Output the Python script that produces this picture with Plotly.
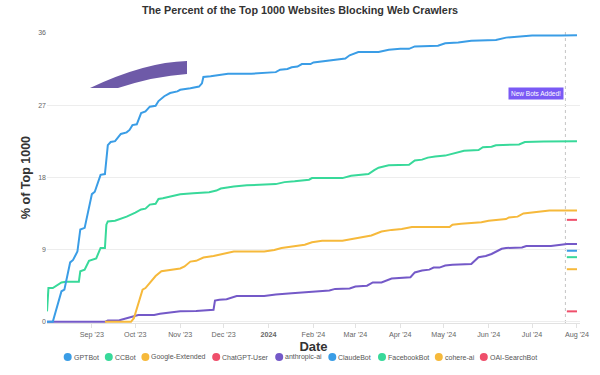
import plotly.graph_objects as go

# ---------------- data ----------------
chart_title = "The Percent of the Top 1000 Websites Blocking Web Crawlers"
x_title = "Date"
y_title = "% of Top 1000"

series_names = ["GPTBot", "CCBot", "Google-Extended", "ChatGPT-User", "anthropic-ai",
                "ClaudeBot", "FacebookBot", "cohere-ai", "OAI-SearchBot"]

gptbot_dates = ["2023-08-01", "2023-08-05", "2023-08-11", "2023-08-13", "2023-08-17", "2023-08-19",
                "2023-08-22", "2023-08-24", "2023-08-27", "2023-09-01", "2023-09-03", "2023-09-07",
                "2023-09-10", "2023-09-12", "2023-09-14", "2023-09-17", "2023-09-21", "2023-09-25",
                "2023-09-27", "2023-09-29", "2023-10-02", "2023-10-05", "2023-10-08", "2023-10-11",
                "2023-10-15", "2023-10-17", "2023-10-21", "2023-10-25", "2023-10-30", "2023-11-01",
                "2023-11-08", "2023-11-14", "2023-11-16", "2023-11-17", "2023-11-22", "2023-12-02",
                "2023-12-04", "2023-12-20", "2023-12-29", "2024-01-06", "2024-01-09", "2024-01-14",
                "2024-01-17", "2024-01-21", "2024-01-24", "2024-01-30", "2024-02-01", "2024-02-09",
                "2024-02-17", "2024-02-23", "2024-02-26", "2024-03-03", "2024-03-17", "2024-03-24",
                "2024-04-01", "2024-04-07", "2024-04-11", "2024-04-20", "2024-04-27", "2024-05-02",
                "2024-05-11", "2024-05-20", "2024-06-06", "2024-06-13", "2024-06-24", "2024-07-01",
                "2024-07-21", "2024-07-25", "2024-08-01"]
gptbot_values = [0, 0, 3.8, 4.0, 7.4, 7.7,
                 8.75, 11.5, 11.7, 15.9, 16.2, 18.3,
                 18.4, 22.0, 22.4, 22.5, 23.4, 23.6,
                 23.9, 24.5, 24.6, 26.0, 26.2, 26.8,
                 26.9, 27.5, 28.1, 28.5, 28.7, 28.9,
                 29.1, 29.3, 29.7, 30.5, 30.6, 30.8,
                 30.9, 30.9, 31.0, 31.1, 31.4, 31.5,
                 31.7, 31.8, 32.1, 32.1, 32.3, 32.5,
                 32.7, 32.8, 33.2, 33.6, 33.6, 33.9,
                 34.0, 34.0, 34.3, 34.4, 34.4, 34.7,
                 34.8, 35.0, 35.1, 35.4, 35.5, 35.65,
                 35.65, 35.7, 35.7]

ccbot_dates = ["2023-08-01", "2023-08-02", "2023-08-05", "2023-08-07", "2023-08-11", "2023-08-14",
               "2023-08-23", "2023-08-24", "2023-08-27", "2023-08-30", "2023-09-02", "2023-09-04",
               "2023-09-07", "2023-09-10", "2023-09-11", "2023-09-12", "2023-09-17", "2023-09-22",
               "2023-09-25", "2023-10-01", "2023-10-05", "2023-10-08", "2023-10-11", "2023-10-15",
               "2023-10-17", "2023-10-20", "2023-10-27", "2023-11-01", "2023-11-10", "2023-11-21",
               "2023-11-26", "2023-11-29", "2023-12-08", "2023-12-17", "2024-01-06", "2024-01-12",
               "2024-01-19", "2024-01-29", "2024-01-31", "2024-02-21", "2024-02-27", "2024-03-10",
               "2024-03-14", "2024-03-17", "2024-03-24", "2024-04-07", "2024-04-11", "2024-04-16",
               "2024-04-20", "2024-04-25", "2024-05-02", "2024-05-10", "2024-05-15", "2024-05-25",
               "2024-05-28", "2024-06-03", "2024-06-06", "2024-06-22", "2024-06-26", "2024-07-09",
               "2024-07-25", "2024-08-01"]
ccbot_values = [1.3, 4.2, 4.2, 4.4, 4.9, 5.0,
                5.0, 6.3, 6.5, 7.6, 7.8, 7.9,
                9.2, 9.2, 12.1, 12.5, 12.6, 12.9,
                13.1, 13.6, 14.0, 14.1, 14.6, 14.7,
                15.3, 15.4, 15.7, 15.9, 16.0, 16.15,
                16.35, 16.6, 16.85, 17.0, 17.15, 17.4,
                17.5, 17.7, 17.9, 17.9, 18.2, 18.4,
                18.9, 19.2, 19.5, 19.55, 20.1, 20.2,
                20.45, 20.6, 20.7, 21.1, 21.3, 21.4,
                21.75, 21.8, 22.0, 22.1, 22.4, 22.45,
                22.45, 22.5]

google_ext_dates = ["2023-09-10", "2023-09-28", "2023-09-30", "2023-10-03", "2023-10-06", "2023-10-08",
                    "2023-10-12", "2023-10-15", "2023-10-19", "2023-10-22", "2023-11-01", "2023-11-04",
                    "2023-11-08", "2023-11-12", "2023-11-17", "2023-11-24", "2023-11-28", "2023-12-02",
                    "2023-12-08", "2023-12-29", "2024-01-05", "2024-01-10", "2024-01-19", "2024-01-26",
                    "2024-01-31", "2024-02-07", "2024-02-21", "2024-03-01", "2024-03-12", "2024-03-19",
                    "2024-03-26", "2024-04-02", "2024-04-09", "2024-05-05", "2024-05-07", "2024-05-13",
                    "2024-05-27", "2024-06-01", "2024-06-13", "2024-06-15", "2024-06-21", "2024-06-25",
                    "2024-07-02", "2024-07-05", "2024-07-13", "2024-08-01"]
google_ext_values = [0, 0, 0.45, 2.3, 4.0, 4.2,
                     5.0, 5.7, 6.3, 6.4, 6.65, 6.9,
                     7.5, 7.6, 8.0, 8.2, 8.35, 8.55,
                     8.75, 8.75, 8.95, 9.2, 9.4, 9.6,
                     9.9, 10.1, 10.1, 10.4, 10.75, 11.25,
                     11.45, 11.55, 11.8, 11.8, 12.1, 12.2,
                     12.4, 12.6, 12.8, 13.0, 13.1, 13.5,
                     13.65, 13.75, 13.85, 13.85]

anthropic_dates = ["2023-08-01", "2023-09-10", "2023-09-12", "2023-09-20", "2023-09-25", "2023-09-29",
                   "2023-10-03", "2023-10-14", "2023-10-18", "2023-10-25", "2023-11-01", "2023-11-12",
                   "2023-11-24", "2023-11-25", "2023-11-28", "2023-12-03", "2023-12-10", "2023-12-29",
                   "2024-01-06", "2024-01-17", "2024-01-31", "2024-02-12", "2024-02-16", "2024-02-26",
                   "2024-03-01", "2024-03-09", "2024-03-13", "2024-03-19", "2024-03-26", "2024-04-02",
                   "2024-04-08", "2024-04-11", "2024-04-16", "2024-04-21", "2024-04-24", "2024-04-28",
                   "2024-05-02", "2024-05-07", "2024-05-20", "2024-05-25", "2024-05-30", "2024-06-03",
                   "2024-06-10", "2024-06-13", "2024-06-24", "2024-06-27", "2024-07-14", "2024-07-21",
                   "2024-07-25", "2024-08-01"]
anthropic_values = [0, 0, 0.15, 0.2, 0.45, 0.65,
                    0.85, 0.85, 1.0, 1.15, 1.3, 1.35,
                    1.5, 2.65, 2.75, 2.8, 3.2, 3.2,
                    3.4, 3.55, 3.75, 3.9, 4.1, 4.15,
                    4.4, 4.5, 4.9, 4.9, 5.4, 5.45,
                    5.55, 6.15, 6.4, 6.5, 6.75, 6.75,
                    7.0, 7.1, 7.2, 8.05, 8.2, 8.45,
                    9.1, 9.2, 9.25, 9.45, 9.45, 9.6,
                    9.7, 9.7]

new_bot_dates = ["2024-07-25", "2024-08-01"]
chatgpt_user_values = [12.7, 12.7]
claudebot_values = [8.85, 8.85]
facebookbot_values = [8.05, 8.05]
cohere_values = [6.55, 6.55]
oai_search_values = [1.3, 1.3]

tick_dates = ["2023-09-01", "2023-10-01", "2023-11-01", "2023-12-01", "2024-01-01", "2024-02-01",
              "2024-03-01", "2024-04-01", "2024-05-01", "2024-06-01", "2024-07-01", "2024-08-01"]
tick_labels = ["Sep '23", "Oct '23", "Nov '23", "Dec '23", "<b>2024</b>", "Feb '24",
               "Mar '24", "Apr '24", "May '24", "Jun '24", "Jul '24", "Aug '24"]
y_ticks = [0, 9, 18, 27, 36]

event_date = "2024-07-24"
event_label = "New Bots Added!"
event_label_y = 28.5

# ---------------- style ----------------
FONT = "Liberation Sans, Arial, Helvetica, sans-serif"
BLUE, GREEN, ORANGE, RED, PURPLE = "#3a9de6", "#38d99a", "#f6b93b", "#ef4f6b", "#7459c8"
colors = [BLUE, GREEN, ORANGE, RED, PURPLE, BLUE, GREEN, ORANGE, RED]

series = [
    (series_names[0], gptbot_dates, gptbot_values),
    (series_names[1], ccbot_dates, ccbot_values),
    (series_names[2], google_ext_dates, google_ext_values),
    (series_names[3], new_bot_dates, chatgpt_user_values),
    (series_names[4], anthropic_dates, anthropic_values),
    (series_names[5], new_bot_dates, claudebot_values),
    (series_names[6], new_bot_dates, facebookbot_values),
    (series_names[7], new_bot_dates, cohere_values),
    (series_names[8], new_bot_dates, oai_search_values),
]

fig = go.Figure()
# first dataset drawn on top -> add in reverse order
for i in reversed(range(len(series))):
    name, xs, ys = series[i]
    fig.add_trace(go.Scatter(x=xs, y=ys, name=name, mode="lines",
                             line=dict(color=colors[i], width=2),
                             showlegend=False, hoverinfo="x+y+name"))

# plot area in pixels
L, R, T, B = 47, 20, 32, 52
W, H = 600, 375
PW, PH = W - L - R, H - T - B


def paper(px, py):
    return (px - L) / PW, (H - B - py) / PH


# decorative arc (top-left)
p0 = paper(90, 88); c0 = paper(145, 62); p1 = paper(187, 61)
p2 = paper(187, 74); c1 = paper(155, 76); p3 = paper(118, 88)
arc_path = (f"M {p0[0]},{p0[1]} Q {c0[0]},{c0[1]} {p1[0]},{p1[1]} "
            f"L {p2[0]},{p2[1]} Q {c1[0]},{c1[1]} {p3[0]},{p3[1]} Z")

shapes = [
    dict(type="path", xref="paper", yref="paper", path=arc_path,
         fillcolor="#6e5aa8", line=dict(width=0), layer="above"),
    dict(type="line", xref="x", yref="paper", x0=event_date, x1=event_date, y0=0, y1=1,
         line=dict(color="#c4c4c4", width=1, dash="dot"), layer="below"),
]

annotations = [
    dict(x=event_date, y=event_label_y, xref="x", yref="y", text=event_label,
         showarrow=False, xanchor="right", yanchor="middle", xshift=-1,
         font=dict(family=FONT, size=6.5, color="white"),
         bgcolor="#7a5af5", borderpad=2),
]

# manual legend (circle + label)
legend_cx = [67.7, 108.8, 145.4, 216.2, 279.2, 332.3, 382.0, 438.8, 483.8]
legend_py = 357
for i, name in enumerate(series_names):
    ax, _ = paper(legend_cx[i], legend_py)
    yoff = -(legend_py - (H - B))
    shapes.append(dict(type="circle", xref="paper", yref="paper",
                       xsizemode="pixel", ysizemode="pixel",
                       xanchor=ax, yanchor=0, x0=-4, x1=4, y0=yoff - 4, y1=yoff + 4,
                       fillcolor=colors[i], line=dict(width=0)))
    annotations.append(dict(x=ax, y=0, xref="paper", yref="paper", text=name,
                            showarrow=False, xanchor="left", yanchor="middle",
                            xshift=4, yshift=yoff,
                            font=dict(family=FONT, size=7, color="#555555")))

fig.update_layout(
    width=W, height=H,
    margin=dict(l=L, r=R, t=T, b=B, autoexpand=False),
    paper_bgcolor="white", plot_bgcolor="white",
    font=dict(family=FONT, color="#666666"),
    title=dict(text=chart_title, x=0.5, xref="container", xanchor="center",
               y=1 - 10 / H, yref="container", yanchor="middle",
               font=dict(family=FONT, size=10.8, color="#333333", weight="bold")),
    showlegend=False,
    shapes=shapes,
    annotations=annotations,
    xaxis=dict(type="date", range=["2023-08-01", "2024-08-03 02:00"],
               tickvals=tick_dates, ticktext=tick_labels,
               tickfont=dict(size=7.2, color="#666666"),
               showgrid=False, zeroline=False,
               showline=True, linecolor="#e2e2e2", linewidth=1,
               ticks="outside", ticklen=4, tickcolor="#e2e2e2",
               title=dict(text=x_title, standoff=2,
                          font=dict(size=13, color="#333333", weight="bold"))),
    yaxis=dict(range=[-0.15, 36.1], tickvals=y_ticks,
               tickfont=dict(size=7, color="#666666"),
               showgrid=True, gridcolor="#ededed", gridwidth=1,
               zeroline=False, showline=False, ticks="",
               title=dict(text=y_title, standoff=4,
                          font=dict(size=12.5, color="#333333", weight="bold"))),
)

fig.write_html("out.html", config={"displayModeBar": False},
               post_script="document.body.style.margin='0';")
